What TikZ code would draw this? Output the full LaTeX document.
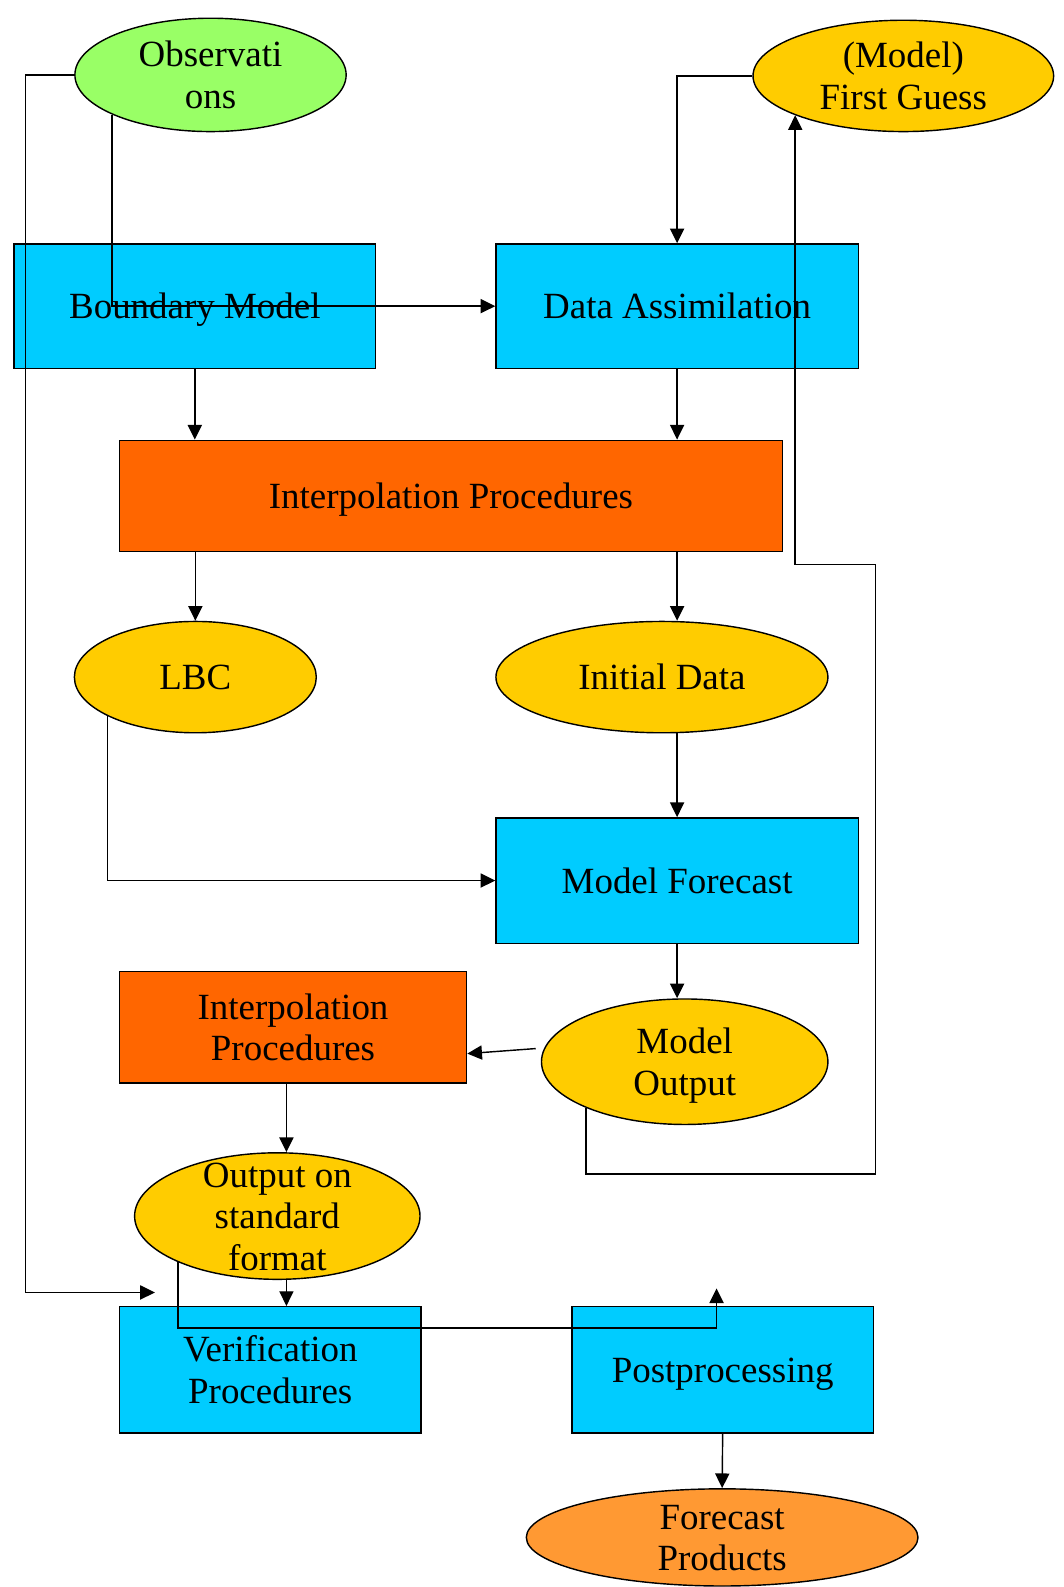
\documentclass[tikz,border=0pt]{standalone}
\usepackage{fontspec}
\setmainfont{Liberation Serif}
\usetikzlibrary{arrows.meta,shapes.geometric}
\definecolor{cblue}{HTML}{00CCFF}
\definecolor{corange}{HTML}{FF6600}
\definecolor{cyellow}{HTML}{FFCC00}
\definecolor{cgreen}{HTML}{99FF66}
\definecolor{clight}{HTML}{FF9933}
\newcommand\mlines[1]{\vbox{\halign{\hfil##\hfil\cr#1\crcr}}}
\begin{document}
\begin{tikzpicture}[x=1pt,y=-1pt,
  boxnode/.style={draw, line width=1.4pt, rectangle, inner sep=0pt},
  ellnode/.style={draw, line width=1.4pt, ellipse, inner sep=0pt},
  lbl/.style={anchor=base, inner sep=0pt, font=\fontsize{36.5}{41}\selectfont},
  arr/.style={draw, line width=1.4pt, -{Triangle[length=14.5pt,width=14pt]}}]
\useasboundingbox (0,0) rectangle (1051,1568);
% shapes
\node[ellnode, fill=cgreen, minimum width=268pt, minimum height=112pt] (obs) at (208,74) {};
\node[ellnode, fill=cyellow, minimum width=297pt, minimum height=110pt] (fg) at (892.5,75) {};
\node[boxnode, fill=cblue, minimum width=357pt, minimum height=123pt] (bm) at (192.5,302.5) {};
\node[boxnode, fill=cblue, minimum width=358pt, minimum height=123pt] (da) at (669,302.5) {};
\node[boxnode, fill=corange, minimum width=655pt, minimum height=110pt] (ip) at (445.5,490) {};
\node[ellnode, fill=cyellow, minimum width=239pt, minimum height=110pt] (lbc) at (193,669) {};
\node[ellnode, fill=cyellow, minimum width=328pt, minimum height=110pt] (init) at (654,669) {};
\node[boxnode, fill=cblue, minimum width=358pt, minimum height=124pt] (mf) at (669,870) {};
\node[boxnode, fill=corange, minimum width=343pt, minimum height=110pt] (ip2) at (289.5,1015) {};
\node[ellnode, fill=cyellow, minimum width=283pt, minimum height=124pt] (mo) at (676.5,1049) {};
\node[ellnode, fill=cyellow, minimum width=282pt, minimum height=125pt] (osf) at (274,1201.5) {};
\node[boxnode, fill=cblue, minimum width=298pt, minimum height=125pt] (verif) at (267,1353.5) {};
\node[boxnode, fill=cblue, minimum width=298pt, minimum height=125pt] (post) at (714,1353.5) {};
\node[ellnode, fill=clight, minimum width=387pt, minimum height=96pt] (fp) at (713.5,1519) {};
% texts (anchor = baseline of the last line)
\node[lbl] (obs-t) at (208,107) {\mlines{Observati\cr ons}};
\node[lbl] (fg-t) at (892.5,108) {\mlines{(Model)\cr First Guess}};
\node[lbl] (bm-t) at (192.5,315) {Boundary Model};
\node[lbl] (da-t) at (669,315) {Data Assimilation};
\node[lbl] (ip-t) at (445.5,502.5) {Interpolation Procedures};
\node[lbl] (lbc-t) at (193,681.5) {LBC};
\node[lbl] (init-t) at (654,681.5) {Initial Data};
\node[lbl] (mf-t) at (669,882.5) {Model Forecast};
\node[lbl] (ip2-t) at (289.5,1048) {\mlines{Interpolation\cr Procedures}};
\node[lbl] (mo-t) at (676.5,1082) {\mlines{Model\cr Output}};
\node[lbl] (osf-t) at (274,1255) {\mlines{Output on\cr standard\cr format}};
\node[lbl] (verif-t) at (267,1386.5) {\mlines{Verification\cr Procedures}};
\node[lbl] (post-t) at (714,1366) {Postprocessing};
\node[lbl] (fp-t) at (713.5,1552) {\mlines{Forecast\cr Products}};
% helper coordinates
\coordinate (cL) at (25,1277);
\coordinate (vin) at (153,1277);
\coordinate (c2) at (865,1160);
\coordinate (c3) at (865,558);
\coordinate (c5) at (708,1312);
\coordinate (pin) at (708,1273);
\coordinate (xa) at (283,0);
% connectors
\draw[arr] (obs.west) -| (cL) -- (vin);
\draw[arr] (obs.202) |- (da.west);
\draw[arr] (fg.west) -| (da.north);
\draw[arr] (bm.south) -- (bm.south |- ip.north);
\draw[arr] (da.south) -- (da.south |- ip.north);
\draw[arr] (lbc.north |- ip.south) -- (lbc.north);
\draw[arr] (mf.north |- ip.south) -- (mf.north |- init.north);
\draw[arr] (lbc.204) |- (mf.west);
\draw[arr] (mf.north |- init.south) -- (mf.north);
\draw[arr] (mf.south) -- (mf.south |- mo.north);
\draw[arr] ([xshift=-5pt,yshift=13pt]mo.west) -- ([yshift=-26pt]ip2.east);
\draw[arr] (mo.205) |- (c2) -- (c3) -| (fg.200);
\draw[arr] (xa |- ip2.south) -- (xa |- osf.north);
\draw[arr] (xa |- osf.south) -- (xa |- verif.north);
\draw[arr] (osf.205) |- (c5) -- (pin);
\draw[arr] (post.south) -- (fp.north);
\end{tikzpicture}
\end{document}
